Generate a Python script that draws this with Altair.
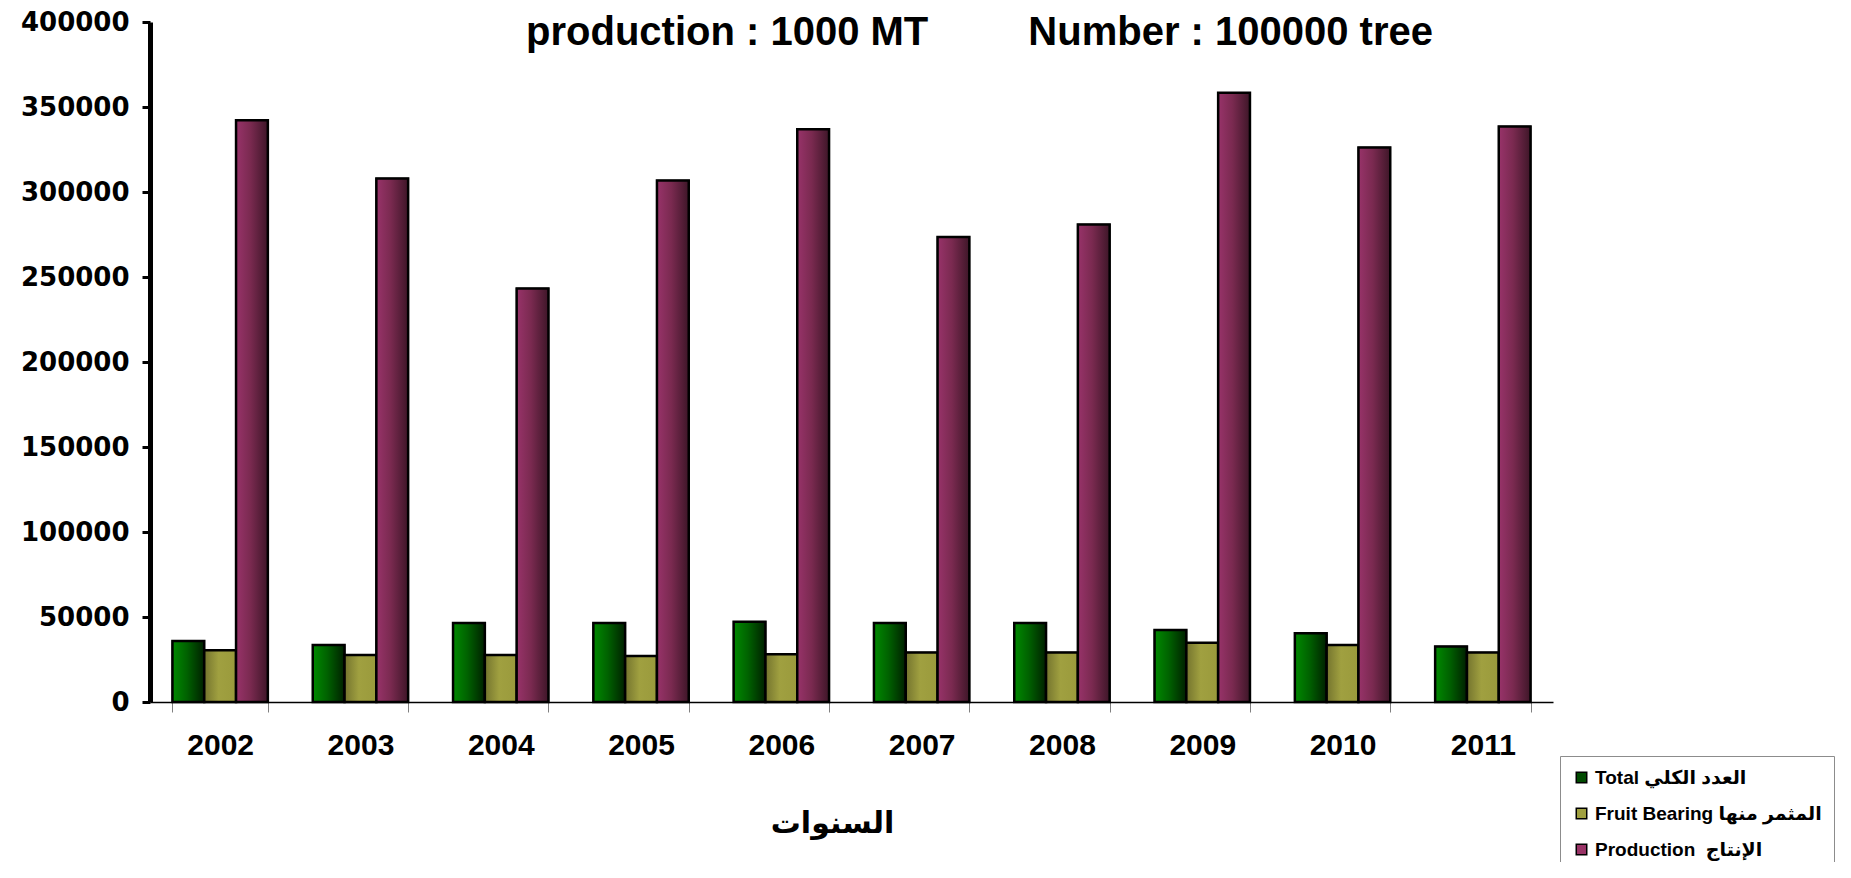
import altair as alt
import pandas as pd

years = ["2002", "2003", "2004", "2005", "2006", "2007", "2008", "2009", "2010", "2011"]
total = [35900, 33600, 46500, 46500, 47200, 46500, 46500, 42300, 40400, 32600]
fruit = [30500, 27600, 27600, 27000, 28100, 29100, 29100, 34800, 33600, 29100]
production = [342200, 308000, 243200, 306700, 336900, 273500, 280900, 358400, 326200, 338500]

series_names = ["Total العدد الكلي", "Fruit Bearing المثمر منها", "\u00a0Production\u00a0\u00a0الإنتاج"]
legend_colors = ["#004a00", "#a0a040", "#993366"]
grad_stops = [
    [(0.0, "#008a00"), (0.45, "#006200"), (1.0, "#002000")],
    [(0.0, "#74742e"), (0.45, "#a0a040"), (1.0, "#9a9a3c")],
    [(0.0, "#98336a"), (0.45, "#7a2a50"), (1.0, "#3e1628")],
]
title_text = "production : 1000 MT" + "\u00a0" * 9 + "Number : 100000 tree"
x_title = "السنوات"
y_ticks = [0, 50000, 100000, 150000, 200000, 250000, 300000, 350000, 400000]

rows = []
for i, yr in enumerate(years):
    for name, vals in zip(series_names, [total, fruit, production]):
        rows.append({"year": yr, "series": name, "value": vals[i]})
df = pd.DataFrame(rows)


def grad(stops):
    return {
        "gradient": "linear",
        "x1": 0, "y1": 0, "x2": 1, "y2": 0,
        "stops": [{"offset": o, "color": c} for o, c in stops],
    }


x_enc = alt.X(
    "year:N",
    sort=years,
    scale=alt.Scale(paddingInner=0.32, paddingOuter=0.16),
    axis=alt.Axis(
        title=x_title,
        titleFont="DejaVu Sans",
        titleFontSize=30,
        titleFontWeight="bold",
        titleColor="black",
        titleX=682,
        titleY=121,
        titleBaseline="middle",
        titleAlign="center",
        labelFont="Liberation Sans",
        labelFontSize=30,
        labelFontWeight="bold",
        labelColor="black",
        labelAngle=0,
        labelPadding=18,
        domainColor="black",
        domainWidth=1.5,
        tickColor="#808080",
        tickWidth=1,
        tickSize=10,
        tickBand="extent",
        grid=False,
    ),
)
xoff_enc = alt.XOffset(
    "series:N",
    sort=series_names,
    scale=alt.Scale(domain=series_names, paddingInner=0, paddingOuter=0),
)
y_enc = alt.Y(
    "value:Q",
    scale=alt.Scale(domain=[0, 400000], nice=False),
    axis=alt.Axis(
        title=None,
        values=y_ticks,
        format="d",
        labelFont="DejaVu Sans",
        labelFontSize=26,
        labelFontWeight="bold",
        labelColor="black",
        labelPadding=13,
        domainColor="black",
        domainWidth=5,
        tickColor="black",
        tickWidth=3,
        tickSize=8,
        grid=False,
    ),
)

base = alt.Chart(df).encode(x=x_enc, xOffset=xoff_enc, y=y_enc)

legend_layer = base.mark_bar(stroke="black", strokeWidth=1.5).encode(
    color=alt.Color(
        "series:N",
        scale=alt.Scale(domain=series_names, range=legend_colors),
        legend=alt.Legend(
            title=None,
            orient="none",
            legendX=1410,
            legendY=734,
            padding=12,
            strokeColor="#8c8c8c",
            fillColor="white",
            labelFont="Liberation Sans, DejaVu Sans",
            labelFontSize=19,
            labelFontWeight="bold",
            labelColor="black",
            labelLimit=400,
            labelOffset=4,
            symbolType="square",
            symbolSize=110,
            symbolStrokeColor="black",
            symbolStrokeWidth=1.5,
            rowPadding=16,
        ),
    )
)

grad_color = {
    "condition": [
        {"test": "datum.series === '%s'" % series_names[0], "value": grad(grad_stops[0])},
        {"test": "datum.series === '%s'" % series_names[1], "value": grad(grad_stops[1])},
    ],
    "value": grad(grad_stops[2]),
}
grad_layer = base.mark_bar(stroke="black", strokeWidth=2.5).encode(color=grad_color)

chart = (
    alt.layer(legend_layer, grad_layer)
    .properties(
        width=1403,
        height=680,
        background="white",
        autosize=alt.AutoSizeParams(type="none"),
        padding={"left": 142, "top": 14, "right": 290, "bottom": 160},
        title=alt.TitleParams(
            text=title_text,
            font="Liberation Sans",
            fontSize=40,
            fontWeight="bold",
            color="black",
            anchor="middle",
            baseline="alphabetic",
            offset=-76,
            dx=128,
        ),
    )
    .configure_view(stroke=None)
)

chart.save("out.html", embed_options={"renderer": "svg", "actions": False})
